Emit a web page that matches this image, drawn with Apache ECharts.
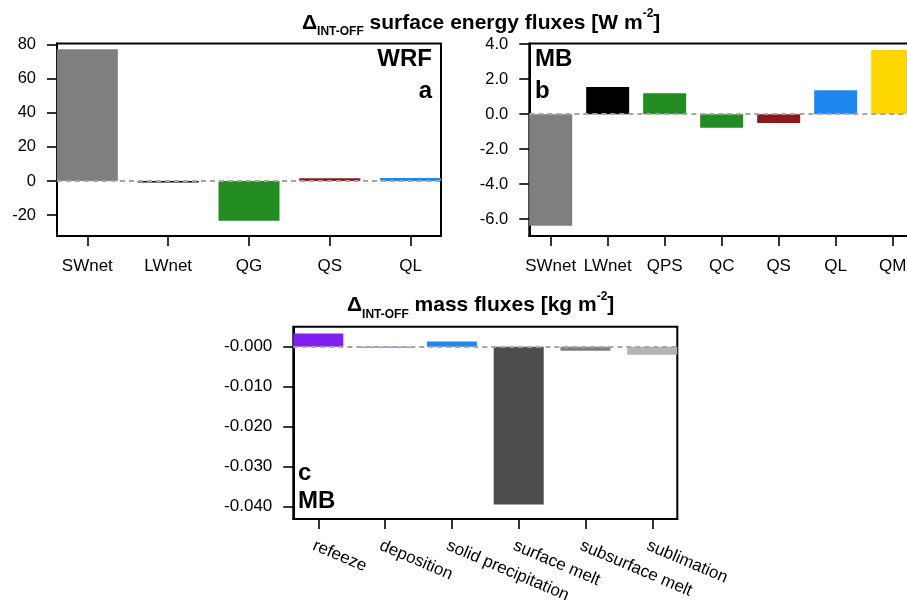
<!DOCTYPE html>
<html>
<head>
<meta charset="utf-8">
<script src="https://cdn.jsdelivr.net/npm/echarts@6/dist/echarts.min.js"></script>
<style>
  html, body { margin: 0; padding: 0; background: #fff; }
  #chart { width: 907px; height: 600px; }
</style>
</head>
<body>
<div id="chart"></div>
<script>
// Panel a: WRF surface energy flux differences (INT - OFF), W m-2
const wrfCategories = ['SWnet', 'LWnet', 'QG', 'QS', 'QL'];
const wrfValues = [77.2, -0.9, -23.2, 1.7, 1.8];
const wrfColors = ['#7f7f7f', '#000000', '#228b22', '#8b1a1a', '#1e88ee'];
const wrfTicks = [-20, 0, 20, 40, 60, 80];

// Panel b: MB surface energy flux differences, W m-2
const mbEnergyCategories = ['SWnet', 'LWnet', 'QPS', 'QC', 'QS', 'QL', 'QM'];
const mbEnergyValues = [-6.39, 1.55, 1.2, -0.78, -0.5, 1.37, 3.67];
const mbEnergyColors = ['#7f7f7f', '#000000', '#228b22', '#228b22', '#8b1a1a', '#1e88ee', '#ffd700'];
const mbEnergyTicks = [-6, -4, -2, 0, 2, 4];

// Panel c: MB mass flux differences, kg m-2
const massCategories = ['refeeze', 'deposition', 'solid precipitation', 'surface melt', 'subsurface melt', 'sublimation'];
const massValues = [0.0033, -0.0002, 0.0013, -0.0395, -0.001, -0.002];
const massColors = ['#8020f0', '#3a2be0', '#1e88ee', '#4d4d4d', '#7f7f7f', '#b3b3b3'];
const massTicks = [-0.04, -0.03, -0.02, -0.01, 0];
const massTickLabels = ['-0.040', '-0.030', '-0.020', '-0.010', '-0.000'];

const FONT = '"Liberation Sans", Arial, Helvetica, sans-serif';

const chart = echarts.init(document.getElementById('chart'), null, { renderer: 'canvas' });

function idx(n) { return Array.from({ length: n }, (_, i) => i); }

function xAxisFor(gridIndex, cats, opts) {
  const n = cats.length;
  const labelShift = opts.labelShift || 0;
  return {
    type: 'value',
    gridIndex: gridIndex,
    min: -0.375,
    max: n - 1 + 0.375,
    splitLine: { show: false },
    axisLine: { show: true, onZero: false, lineStyle: { color: '#000', width: 2 } },
    axisTick: {
      show: true, inside: false, length: 10,
      customValues: idx(n),
      lineStyle: { color: '#000', width: 1.6 }
    },
    axisLabel: {
      show: true,
      customValues: idx(n).map(i => i + labelShift),
      formatter: v => cats[Math.round(v - labelShift)],
      color: '#000',
      fontFamily: FONT,
      fontSize: opts.fontSize || 17,
      margin: opts.margin || 18,
      rotate: opts.rotate || 0,
      hideOverlap: false
    }
  };
}

function yAxisFor(gridIndex, min, max, ticks, labels, fontSize) {
  return {
    type: 'value',
    gridIndex: gridIndex,
    min: min,
    max: max,
    splitLine: { show: false },
    axisLine: { show: true, onZero: false, lineStyle: { color: '#000', width: 2 } },
    axisTick: {
      show: true, inside: false, length: 10,
      customValues: ticks,
      lineStyle: { color: '#000', width: 1.6 }
    },
    axisLabel: {
      show: true,
      customValues: ticks,
      formatter: v => {
        const k = ticks.findIndex(t => Math.abs(t - v) < 1e-9);
        return labels[k];
      },
      color: '#000',
      fontFamily: FONT,
      fontSize: fontSize,
      margin: 21
    }
  };
}

function barSeries(gridIndex, values, colors, width) {
  return {
    type: 'bar',
    xAxisIndex: gridIndex,
    yAxisIndex: gridIndex,
    barWidth: width,
    data: values.map((v, i) => ({ value: [i, v], itemStyle: { color: colors[i] } })),
    markLine: {
      silent: true,
      symbol: 'none',
      label: { show: false },
      lineStyle: { color: '#a6a6a6', type: [5, 4], width: 1.8 },
      data: [{ yAxis: 0 }],
      z: 10
    }
  };
}

const gridBox = {
  show: true, borderColor: '#000', borderWidth: 2, backgroundColor: 'transparent',
  outerBoundsMode: 'none', containLabel: false
};

// Panel heading: Δ with INT-OFF subscript, unit with superscript exponent
function titleRich(main, sup) {
  return {
    text: '{d|Δ}{s|INT-OFF}{m| ' + main + '}{p|' + sup + '}{m|]}',
    rich: {
      d: { fontFamily: FONT, fontWeight: 'bold', fontSize: 21, lineHeight: 30, verticalAlign: 'middle' },
      s: { fontFamily: FONT, fontWeight: 'bold', fontSize: 12, lineHeight: 13, verticalAlign: 'bottom' },
      m: { fontFamily: FONT, fontWeight: 'bold', fontSize: 21, lineHeight: 30, verticalAlign: 'middle' },
      p: { fontFamily: FONT, fontWeight: 'bold', fontSize: 12, lineHeight: 21, verticalAlign: 'top' }
    },
    fill: '#000'
  };
}

const option = {
  backgroundColor: '#fff',
  animation: false,
  grid: [
    Object.assign({ left: 57, top: 43.5, width: 384, height: 192.5 }, gridBox),
    Object.assign({ left: 529.3, top: 43.5, width: 384.75, height: 192.5 }, gridBox),
    Object.assign({ left: 293.3, top: 326.7, width: 384, height: 192.3 }, gridBox)
  ],
  xAxis: [
    xAxisFor(0, wrfCategories, { margin: 22 }),
    xAxisFor(1, mbEnergyCategories, { margin: 22 }),
    xAxisFor(2, massCategories, { margin: 26, rotate: -23, labelShift: -0.07, fontSize: 17 })
  ],
  yAxis: [
    yAxisFor(0, -32.2, 80.6, wrfTicks, wrfTicks.map(String), 16.5),
    yAxisFor(1, -6.97, 4.04, mbEnergyTicks, mbEnergyTicks.map(v => v.toFixed(1)), 16.5),
    yAxisFor(2, -0.0431, 0.005, massTicks, massTickLabels, 17)
  ],
  series: [
    barSeries(0, wrfValues, wrfColors, 61),
    barSeries(1, mbEnergyValues, mbEnergyColors, 43),
    barSeries(2, massValues, massColors, 50)
  ],
  graphic: [
    { type: 'text', left: 302, top: 8, style: titleRich('surface energy fluxes [W m', '-2') },
    { type: 'text', left: 347, top: 290.5, style: titleRich('mass fluxes [kg m', '-2') },
    { type: 'text', right: 907 - 432, top: 47, style: { text: 'WRF', fontFamily: FONT, fontWeight: 'bold', fontSize: 24, fill: '#000', align: 'right' } },
    { type: 'text', right: 907 - 432, top: 79, style: { text: 'a', fontFamily: FONT, fontWeight: 'bold', fontSize: 24, fill: '#000', align: 'right' } },
    { type: 'text', left: 535, top: 47, style: { text: 'MB', fontFamily: FONT, fontWeight: 'bold', fontSize: 24, fill: '#000' } },
    { type: 'text', left: 535, top: 79, style: { text: 'b', fontFamily: FONT, fontWeight: 'bold', fontSize: 24, fill: '#000' } },
    { type: 'text', left: 298, top: 461, style: { text: 'c', fontFamily: FONT, fontWeight: 'bold', fontSize: 24, fill: '#000' } },
    { type: 'text', left: 298, top: 489, style: { text: 'MB', fontFamily: FONT, fontWeight: 'bold', fontSize: 24, fill: '#000' } }
  ]
};

chart.setOption(option);
</script>
</body>
</html>
